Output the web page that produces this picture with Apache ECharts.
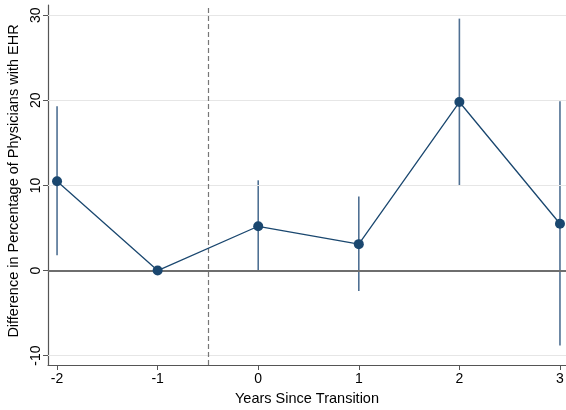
<!DOCTYPE html>
<html><head><meta charset="utf-8">
<script src="https://cdn.jsdelivr.net/npm/echarts@6/dist/echarts.min.js"></script>
<style>html,body{margin:0;padding:0;background:#fff}#c{width:566px;height:410px}</style>
</head><body><div id="c"></div>
<script>
var years = [-2, -1, 0, 1, 2, 3];
var estimate = [10.5, 0, 5.2, 3.1, 19.8, 5.5];
var ciLow = [1.8, 0, 0, -2.4, 10.0, -8.8];
var ciHigh = [19.3, 0, 10.6, 8.7, 29.6, 19.9];
var xTicks = [-2, -1, 0, 1, 2, 3];
var yTicks = [-10, 0, 10, 20, 30];
var refX = -0.5;
var refY = 0;

var navy = '#1a476f';
var font = 'Liberation Sans, Arial, sans-serif';
var chart = echarts.init(document.getElementById('c'), null, {renderer: 'canvas'});

var ciData = years.map(function (y, i) { return [y, ciLow[i], ciHigh[i]]; });
var ptData = years.map(function (y, i) { return [y, estimate[i]]; });

chart.setOption({
  animation: false,
  backgroundColor: '#fff',
  grid: {left: 48, right: 0, top: 5, bottom: 45, containLabel: false, outerBoundsMode: 'none'},
  xAxis: {
    type: 'value', min: -2.09, max: 3.06,
    name: 'Years Since Transition', nameLocation: 'middle', nameGap: 26,
    nameTextStyle: {fontFamily: font, fontSize: 14.5, color: '#000'},
    axisLine: {onZero: false, lineStyle: {color: '#555', width: 1.2}},
    axisTick: {show: true, length: 5, customValues: xTicks, lineStyle: {color: '#555'}},
    axisLabel: {customValues: xTicks, fontFamily: font, fontSize: 14, color: '#000', margin: 7},
    splitLine: {show: false}
  },
  yAxis: {
    type: 'value', min: -11.1, max: 31.2,
    name: 'Difference in Percentage of Physicians with EHR', nameLocation: 'middle', nameGap: 19, nameRotate: 90,
    nameTextStyle: {fontFamily: font, fontSize: 14.5, color: '#000', padding: [0, 0, 0, 8]},
    axisLine: {show: true, onZero: false, lineStyle: {color: '#555', width: 1.2}},
    axisTick: {show: true, length: 5, customValues: yTicks, lineStyle: {color: '#555'}},
    axisLabel: {customValues: yTicks, rotate: 90, fontFamily: font, fontSize: 14, color: '#000', margin: 5},
    splitLine: {show: false}
  },
  series: [
    {
      type: 'line', data: [], silent: true, z: 1,
      markLine: {
        silent: true, symbol: 'none', animation: false,
        label: {show: false},
        data: yTicks.filter(function (t) { return t !== refY; }).map(function (t) {
          return {yAxis: t, lineStyle: {color: '#e6e6e6', width: 1, type: 'solid'}};
        }).concat([
          {yAxis: refY, lineStyle: {color: '#6e6e6e', width: 1.8, type: 'solid'}},
          {xAxis: refX, lineStyle: {color: '#777', width: 1.2, type: [5, 3]}}
        ])
      }
    },
    {
      type: 'custom', z: 2, data: ciData,
      renderItem: function (params, api) {
        var a = api.coord([api.value(0), api.value(1)]);
        var b = api.coord([api.value(0), api.value(2)]);
        return {type: 'line', shape: {x1: a[0], y1: a[1], x2: b[0], y2: b[1]},
          style: {stroke: '#4f7093', lineWidth: 1.6}};
      }
    },
    {
      type: 'line', z: 10, data: ptData, symbol: 'circle', symbolSize: 10,
      itemStyle: {color: navy}, lineStyle: {color: navy, width: 1.3}
    }
  ]
});
</script></body></html>
